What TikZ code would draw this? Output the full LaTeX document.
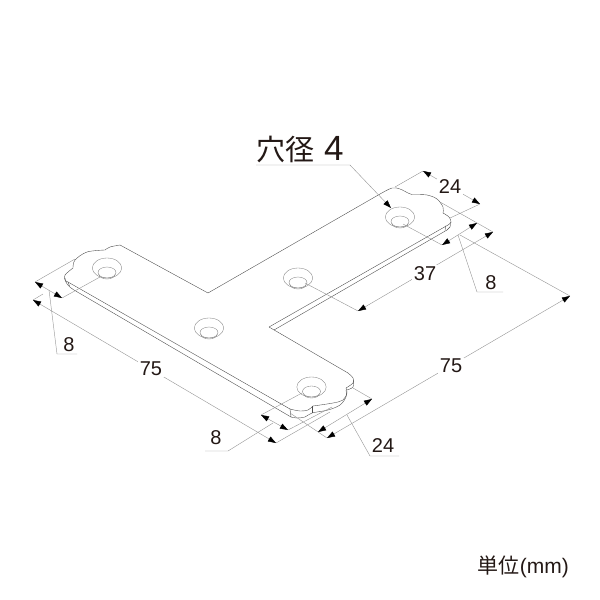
\documentclass[tikz,border=0pt]{standalone}
\usepackage{fontspec}
\setmainfont{Liberation Sans}
\newfontfamily\cjk{Noto Sans CJK JP}
\usetikzlibrary{arrows.meta}
\definecolor{inkc}{HTML}{231815}
\tikzset{
  plate/.style={draw=black!70,line width=0.38pt,line join=round},
  thin line/.style={draw=black!42,line width=0.4pt},
  dim/.style={thin line,{Triangle[length=8pt,width=5.5pt,fill=black,color=black]}-{Triangle[length=8pt,width=5.5pt,fill=black,color=black]}},
  tip/.style={thin line,-{Triangle[length=8pt,width=5.5pt,fill=black,color=black]}},
  val/.style={font=\fontsize{20}{22}\selectfont,text=inkc,inner sep=1.5pt},
  vallab/.style={val,fill=white},
}
\newcommand{\hole}[3]{%
  \coordinate (#1) at (#2,#3);
  \draw[plate,draw=black!50,line width=0.33pt] (#1) ellipse (14.7 and 10);
  \draw[plate,draw=black!50,line width=0.33pt] ([yshift=-4.5pt]#1) ellipse (9 and 5.5);
  \draw[plate,draw=black!50,line width=0.33pt] ([xshift=-8pt,yshift=-6.5pt]#1) arc (180:360:8 and -4.5);
}
\begin{document}
\begin{tikzpicture}[x=1pt,y=-1pt]
\useasboundingbox (0,0) rectangle (600,600);
% plate top face
\draw[plate] (120,245) -- (208,293) -- (380,194);
\draw[plate] plot[smooth,tension=.55] coordinates {(380,194) (392,188) (400,189) (408,193) (412,194.5)};
\draw[plate] plot[smooth,tension=.55] coordinates {(412,194.5) (427,195) (437,199) (443,207) (443,213)};
\draw[plate] plot[smooth,tension=.55] coordinates {(443,213) (449,217) (451,222) (448,225)};
\draw[plate] (448,225) -- (269,327) -- (348,373);
\draw[plate] plot[smooth,tension=.55] coordinates {(348,373) (353,378) (353,383) (346,388)};
\draw[plate] plot[smooth,tension=.55] coordinates {(346,388) (347,393) (343,400) (333,403) (313,406)};
\draw[plate] plot[smooth,tension=.55] coordinates {(313,406) (308,410) (300,411) (290,409)};
\draw[plate] (290,409) -- (68,282);
\draw[plate] plot[smooth,tension=.55] coordinates {(68,282) (65,280) (65,275) (73,268)};
\draw[plate] plot[smooth,tension=.55] coordinates {(73,268) (75,260) (87,252) (105,250)};
\draw[plate] plot[smooth,tension=.55] coordinates {(105,250) (110,247) (120,245)};
% thickness
\draw[plate] (65,278) .. controls (65,283) and (69,287) .. (74,290) -- (291,417);
\draw[plate] (68,282) -- (69.5,286);
\draw[plate] (290,409) -- (291,417);
\draw[plate] plot[smooth,tension=.55] coordinates {(291,417) (297,418) (305,417) (312,413) (328,410) (340,405) (346,397) (346,390)};
\draw[plate] (312.5,406) -- (312.5,413);
\draw[plate] plot[smooth,tension=.55] coordinates {(347,390) (353,387) (353.5,380)};
\draw[plate] (451,222) -- (450,227) -- (447,230) -- (274,330);
\draw[plate] (446,225.5) -- (445,230.5);
% holes
\hole{h1}{107}{268}
\hole{h2}{209}{328}
\hole{h3}{311.5}{387}
\hole{h4}{298}{278}
\hole{h5}{400}{217}
% anchors of the dimensions
\coordinate (l1) at (75,259);  \coordinate (l1e) at (35,282);
\coordinate (l2) at (100,277); \coordinate (l2e) at (62,298);
\coordinate (l3) at (43,294);  \coordinate (l3e) at (33,300);
\coordinate (b1) at (302,393); \coordinate (b1e) at (261,415);
\coordinate (b2) at (332,407); \coordinate (b2e) at (288,430);
\coordinate (b3) at (330,412); \coordinate (b3e) at (276,443);
\coordinate (b4) at (290,413); \coordinate (b4e) at (318,432);
\coordinate (b5) at (353,388); \coordinate (b5e) at (372,399);
\coordinate (b6e) at (327,438);
\coordinate (t1) at (395,187); \coordinate (t1e) at (423,171);
\coordinate (t2) at (450,218); \coordinate (t2e) at (480,204);
\coordinate (t3) at (403,224); \coordinate (t3e) at (442,245);
\coordinate (t4) at (440,202); \coordinate (t4e) at (493,232);
\coordinate (t5) at (305,283); \coordinate (t5e) at (358,311);
\coordinate (t6) at (460,235); \coordinate (t6e) at (570,296);
\coordinate (t7) at (477,223);
% extension lines
\draw[thin line] (l1) -- (l1e) (l2) -- (l2e) (l3) -- (l3e)
  (b1) -- (b1e) (b2) -- (b2e) (b3) -- (b3e) (b4) -- (b6e) (b5) -- (b5e)
  (t1) -- (t1e) (t2) -- (t2e) (t3) -- (t3e) (t4) -- (t4e) (t5) -- (t5e) (t6) -- (t6e);
% dimension lines
\draw[dim] (l1e) -- (l2e);
\draw[dim] (l3e) -- (b3e);
\draw[dim] (b1e) -- (b2e);
\draw[dim] (b4e) -- (b5e);
\draw[dim] (b6e) -- (t6e);
\draw[dim] (t1e) -- (t2e);
\draw[dim] (t3e) -- (t7);
\draw[dim] (t5e) -- (t4e);
% leaders
\coordinate (q1) at (49,290);  \coordinate (q1a) at (57,354);  \coordinate (q1b) at (77,354);
\coordinate (q2) at (273,423); \coordinate (q2a) at (228,451); \coordinate (q2b) at (205,451);
\coordinate (q3) at (347,415); \coordinate (q3a) at (370,456); \coordinate (q3b) at (399,456);
\coordinate (q4) at (458,235); \coordinate (q4a) at (477,292); \coordinate (q4b) at (503,292);
\coordinate (q5) at (256,165); \coordinate (q5a) at (350,165); \coordinate (q5b) at (391,208);
\draw[thin line] (q1) -- (q1a) -- (q1b);
\draw[thin line] (q2) -- (q2a) -- (q2b);
\draw[thin line] (q3) -- (q3a) -- (q3b);
\draw[thin line] (q4) -- (q4a) -- (q4b);
\draw[tip] (q5) -- (q5a) -- (q5b);
% labels
\node[val] (v8l) at (69,345) {8};
\node[vallab] (v75l) at (151,369) {75};
\node[val] (v8b) at (216,438) {8};
\node[val] (v24b) at (383,446) {24};
\node[vallab] (v24t) at (450,187) {24};
\node[vallab] (v37) at (425,274) {37};
\node[val] (v8r) at (491,283) {8};
\node[vallab] (v75r) at (451,366) {75};
\node[anchor=base west,inner sep=0pt,text=inkc,font=\fontsize{29}{30}\selectfont] (title) at (256,160) {{\cjk 穴径}\kern10pt\fontsize{35}{35}\selectfont 4};
\node[anchor=base east,inner sep=0pt,text=inkc,font=\fontsize{21}{22}\selectfont] (unit) at (569,573) {{\cjk 単位}(mm)};
\end{tikzpicture}
\end{document}
